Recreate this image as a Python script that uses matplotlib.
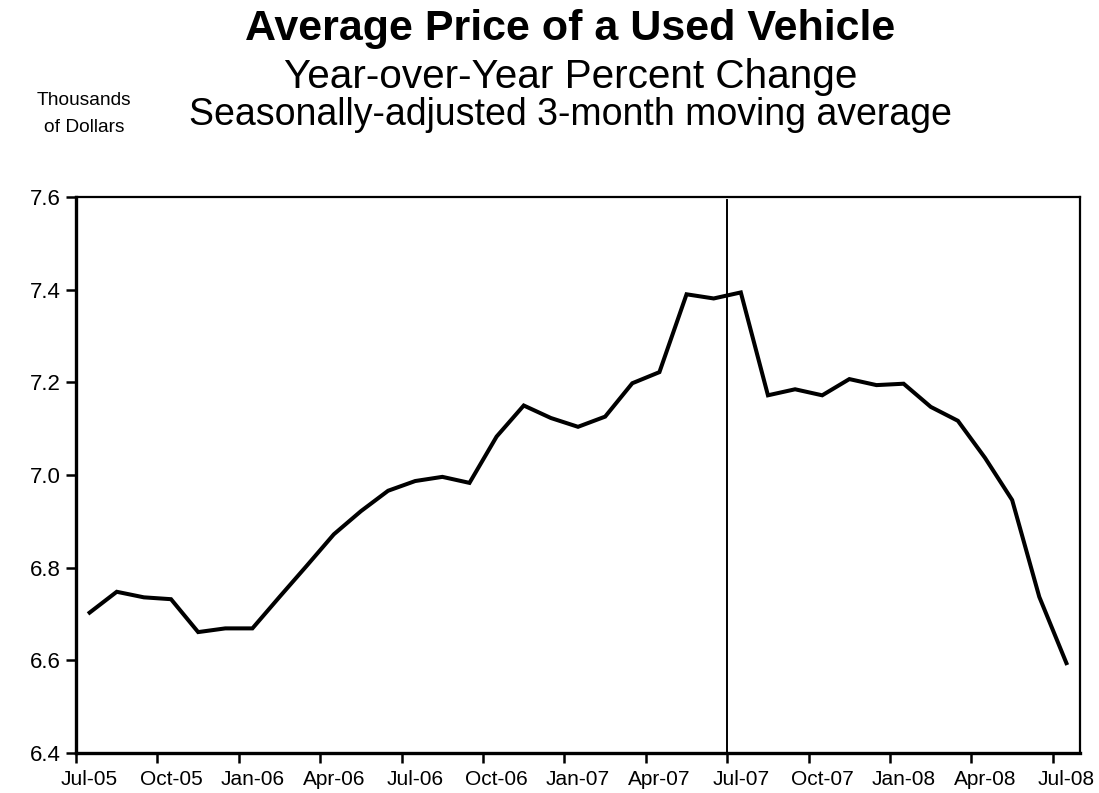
import numpy as np
import matplotlib
matplotlib.use("Agg")
import matplotlib.pyplot as plt
from matplotlib.ticker import FixedLocator, NullFormatter

plt.rcParams['font.family'] = ['Liberation Sans', 'DejaVu Sans']

# monthly values, Jul-05 .. Jul-08 (thousands of dollars)
months = ['Jul-05', 'Aug-05', 'Sep-05', 'Oct-05', 'Nov-05', 'Dec-05',
          'Jan-06', 'Feb-06', 'Mar-06', 'Apr-06', 'May-06', 'Jun-06',
          'Jul-06', 'Aug-06', 'Sep-06', 'Oct-06', 'Nov-06', 'Dec-06',
          'Jan-07', 'Feb-07', 'Mar-07', 'Apr-07', 'May-07', 'Jun-07',
          'Jul-07', 'Aug-07', 'Sep-07', 'Oct-07', 'Nov-07', 'Dec-07',
          'Jan-08', 'Feb-08', 'Mar-08', 'Apr-08', 'May-08', 'Jun-08',
          'Jul-08']
price = [6.703, 6.748, 6.736, 6.732, 6.661, 6.669,
         6.669, 6.737, 6.804, 6.872, 6.922, 6.966,
         6.987, 6.996, 6.983, 7.083, 7.150, 7.123,
         7.104, 7.126, 7.198, 7.222, 7.390, 7.381,
         7.394, 7.172, 7.185, 7.172, 7.207, 7.194,
         7.197, 7.147, 7.117, 7.037, 6.946, 6.737,
         6.594]
tick_labels = months[::3]
marker_month = 'Jul-07'

fig = plt.figure(figsize=(10.99, 7.93), dpi=100)
ax = fig.add_axes([0.0692, 0.0504, 0.9135, 0.7012])

x = np.arange(len(months)) + 0.5
ax.plot(x, price, color='black', lw=2.9, solid_joinstyle='miter', clip_on=False)
ax.axvline(months.index(marker_month), ymin=0, ymax=0.995, color='black', lw=1.4)

ax.set_xlim(0, len(months))
ax.set_ylim(6.4, 7.6)
ax.set_yticks(np.arange(6.4, 7.61, 0.2))
ax.set_yticklabels(['%.1f' % v for v in np.arange(6.4, 7.61, 0.2)])

# tick marks at category boundaries, labels centred on the category
ax.xaxis.set_major_locator(FixedLocator(np.arange(0, len(months), 3)))
ax.xaxis.set_major_formatter(NullFormatter())
ax.xaxis.set_minor_locator(FixedLocator(np.arange(0, len(months), 3) + 0.5))
ax.set_xticklabels(tick_labels, minor=True)
ax.tick_params(axis='x', which='minor', length=0, pad=12, labelsize=15)
ax.tick_params(axis='x', which='major', direction='out', length=7, width=1.8)
ax.tick_params(axis='y', direction='out', length=7, width=1.8, labelsize=16, pad=4)

for s in ax.spines.values():
    s.set_linewidth(1.6)
ax.spines['left'].set_linewidth(2.4)
ax.spines['bottom'].set_linewidth(2.4)

fig.text(0.519, 1 - 29 / 793, 'Average Price of a Used Vehicle', ha='center', va='center',
         fontsize=31, fontweight='bold')
fig.text(0.519, 1 - 77 / 793, 'Year-over-Year Percent Change', ha='center', va='center',
         fontsize=29.2)
fig.text(0.519, 1 - 115 / 793, 'Seasonally-adjusted 3-month moving average', ha='center',
         va='center', fontsize=27)
fig.text(84 / 1099, 1 - 114 / 793, 'Thousands\nof Dollars', ha='center', va='center',
         fontsize=13.8, linespacing=1.7)

fig.savefig('out.png', dpi=100)
